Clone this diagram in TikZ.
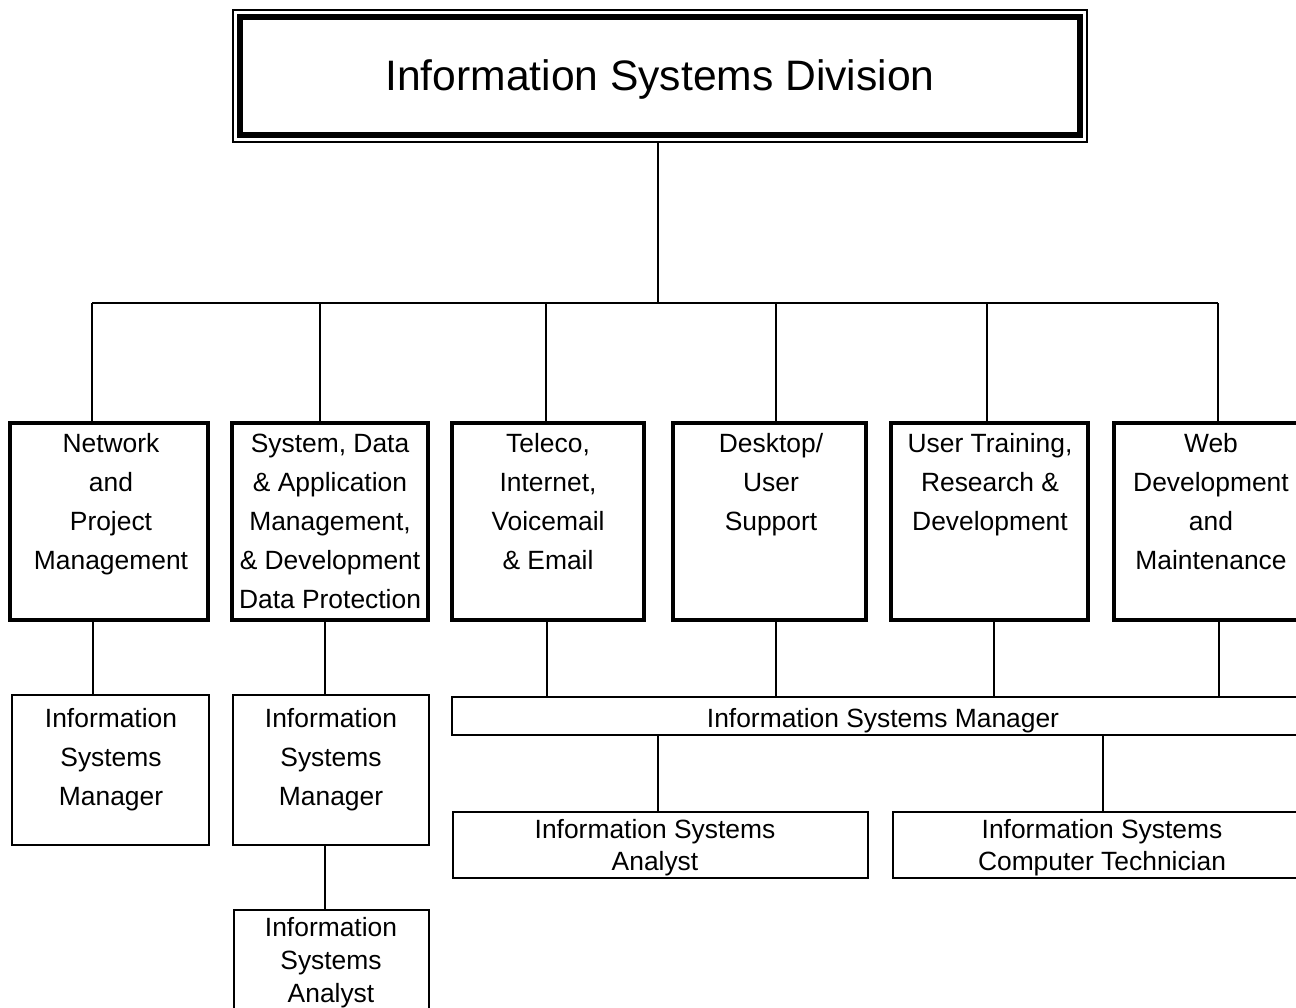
\documentclass[tikz,border=0pt]{standalone}
\usepackage{fontspec}
\setmainfont{Liberation Sans}
\begin{document}
\begin{tikzpicture}[x=1pt,y=-1pt,
  conn/.style={line width=1.8pt},
  unitbox/.style={draw, line width=3.5pt, inner sep=0pt},
  rolebox/.style={draw, line width=1.6pt, inner sep=0pt},
  lbl/.style={font=\fontsize{26.4}{39}\selectfont, align=center, inner sep=0pt, anchor=north},
  lbltight/.style={lbl, font=\fontsize{26.4}{32}\selectfont},
  lblmid/.style={lbl, font=\fontsize{26.4}{33}\selectfont},
]
\clip (0,0) rectangle (1296,1007);

% division header with double frame
\node[draw, line width=1.4pt, inner sep=0pt, minimum width=854pt, minimum height=132pt] (div) at (660,76) {};
\node[draw, line width=6pt, inner sep=0pt, minimum width=840pt, minimum height=118pt] (divin) at (660,76) {};
\node[font=\fontsize{42.6}{50}\selectfont, inner sep=0pt, anchor=base] (divt) at (660,90) {Information Systems Division};

% bus coordinates
\coordinate (hub) at (658,303);
\coordinate (b1) at (92,303);
\coordinate (b2) at (320,303);
\coordinate (b3) at (546,303);
\coordinate (b4) at (776,303);
\coordinate (b5) at (987,303);
\coordinate (b6) at (1218,303);

% units
\node[unitbox, minimum width=198pt, minimum height=197pt] (u1) at (109,521.5) {};
\node[unitbox, minimum width=196pt, minimum height=197pt] (u2) at (330,521.5) {};
\node[unitbox, minimum width=192pt, minimum height=197pt] (u3) at (548,521.5) {};
\node[unitbox, minimum width=193pt, minimum height=197pt] (u4) at (769.5,521.5) {};
\node[unitbox, minimum width=197pt, minimum height=197pt] (u5) at (989.5,521.5) {};
\node[unitbox, minimum width=196pt, minimum height=197pt] (u6) at (1212,521.5) {};

\node[lbl] (t1) at (111,433.5) {Network\\and\\Project\\Management};
\node[lbl] (t2) at (330,433.5) {System, Data\\\& Application\\Management,\\\& Development\\Data Protection};
\node[lbl] (t3) at (548,433.5) {Teleco,\\Internet,\\Voicemail\\\& Email};
\node[lbl] (t4) at (771,433.5) {Desktop/\\User\\Support};
\node[lbl] (t5) at (990,433.5) {User Training,\\Research \&\\Development};
\node[lbl] (t6) at (1211,433.5) {Web\\Development\\and\\Maintenance};

% roles
\node[rolebox, minimum width=197pt, minimum height=150pt] (m1) at (110.5,770) {};
\node[rolebox, minimum width=196pt, minimum height=150pt] (m2) at (331,770) {};
\node[rolebox, minimum width=195pt, minimum height=110pt] (a2) at (331.5,965) {};
\node[rolebox, minimum width=858pt, minimum height=38pt] (bar) at (881,716) {};
\node[rolebox, minimum width=415pt, minimum height=66pt] (an) at (660.5,845) {};
\node[rolebox, minimum width=417pt, minimum height=66pt] (tech) at (1101.5,845) {};

\node[lbl] (tm1) at (111,708.5) {Information\\Systems\\Manager};
\node[lbl] (tm2) at (331,708.5) {Information\\Systems\\Manager};
\node[lblmid] (ta2) at (331,917.5) {Information\\Systems\\Analyst};
\node[lbl, anchor=base] (tbar) at (883,727.5) {Information Systems Manager};
\node[lbltight] (tan) at (655,819.5) {Information Systems\\Analyst};
\node[lbltight] (ttech) at (1102,819.5) {Information Systems\\Computer Technician};

% connectors
\draw[conn] (div.south -| hub) -- (hub);
\draw[conn] (b1) -- (b6);
\foreach \b/\u in {b1/u1,b2/u2,b3/u3,b4/u4,b5/u5,b6/u6}
  \draw[conn] (\b) -- (\b |- \u.north);

\coordinate (d1) at (93,620);
\coordinate (d2) at (325,620);
\draw[conn] (d1) -- (d1 |- m1.north);
\draw[conn] (d2) -- (d2 |- m2.north);
\draw[conn] (d2 |- m2.south) -- (d2 |- a2.north);

\coordinate (e3) at (547,620);
\coordinate (e4) at (776,620);
\coordinate (e5) at (994,620);
\coordinate (e6) at (1219,620);
\foreach \e in {e3,e4,e5,e6}
  \draw[conn] (\e) -- (\e |- bar.north);

\coordinate (f1) at (658,735);
\coordinate (f2) at (1103,735);
\draw[conn] (f1) -- (f1 |- an.north);
\draw[conn] (f2) -- (f2 |- tech.north);
\end{tikzpicture}
\end{document}
